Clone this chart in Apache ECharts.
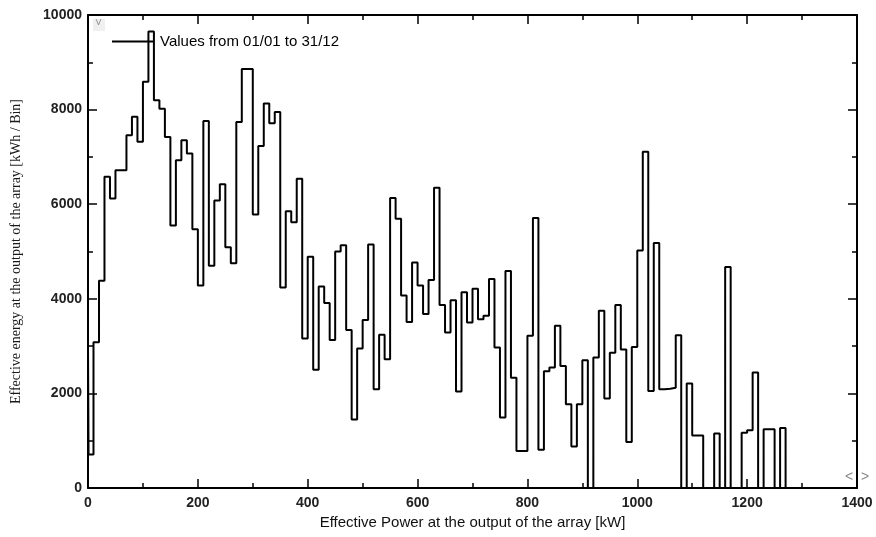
<!DOCTYPE html>
<html>
<head>
<meta charset="utf-8">
<script src="https://cdn.jsdelivr.net/npm/echarts@6/dist/echarts.min.js"></script>
<style>
  html, body { margin: 0; padding: 0; background: #fff; }
  #chart { width: 876px; height: 537px; }
</style>
</head>
<body>
<div id="chart"></div>
<script>
// histogram, 10 kW bins starting at 0 kW
var binWidth = 10;
var firstSpike = 3000; // thin sliver at the very start of the first bin
var energyPerBin = [
  710, 3080, 4380, 6580, 6120, 6720, 6720, 7460, 7850, 7320,
  8590, 9650, 8200, 8020, 7420, 5550, 6930, 7350, 7070, 5470,
  4280, 7760, 4700, 6080, 6420, 5090, 4750, 7740, 8860, 8860,
  5780, 7230, 8130, 7710, 7950, 4240, 5850, 5620, 6540, 3160,
  4890, 2500, 4260, 3910, 3130, 5000, 5130, 3340, 1450, 2950,
  3550, 5150, 2090, 3240, 2720, 6130, 5690, 4070, 3510, 4770,
  4280, 3680, 4400, 6350, 3870, 3290, 3970, 2040, 4140, 3500,
  4210, 3570, 3640, 4420, 2970, 1490, 4590, 2330, 780, 780,
  3220, 5710, 810, 2470, 2550, 3430, 2580, 1770, 880, 1770,
  2700, 0, 2760, 3750, 1890, 2860, 3870, 2930, 970, 2980,
  5020, 7110, 2050, 5180, 2090, 2100, 2120, 3230, 0, 2210,
  1110, 1110, 0, 0, 1150, 0, 4670, 0, 0, 1170,
  1220, 2440, 0, 1240, 1240, 0, 1270
];
var seriesName = 'Values from 01/01 to 31/12';
var xName = 'Effective Power at the output of the array [kW]';
var yName = 'Effective energy at the output of the array [kWh / Bin]';

// step outline points: each bin start with its value
var pts = [[0, 0], [0, firstSpike]];
for (var i = 0; i < energyPerBin.length; i++) {
  pts.push([i === 0 ? 1 : i * binWidth, energyPerBin[i]]);
}
pts.push([energyPerBin.length * binWidth, 0]);

var sans = 'Liberation Sans, Arial, sans-serif';
var plain = function (v) { return String(v); };
var axisCommon = {
  axisLine: { show: true, onZero: false, lineStyle: { color: '#000', width: 2 } },
  axisTick: { show: true, inside: true, length: 9, lineStyle: { color: '#000', width: 1.5 } },
  minorTick: { show: true, splitNumber: 2, length: 5, lineStyle: { color: '#000', width: 1.5 } },
  splitLine: { show: false }
};

var chart = echarts.init(document.getElementById('chart'));
var option = {
  animation: false,
  backgroundColor: '#fff',
  grid: { left: 88, right: 19, top: 15, bottom: 49, containLabel: false },
  legend: {
    left: 107, top: 29,
    icon: 'rect',
    itemWidth: 41, itemHeight: 2,
    data: [seriesName],
    itemStyle: { color: '#000' },
    textStyle: { fontFamily: sans, fontSize: 15, color: '#000', padding: [0, 0, 0, 2] }
  },
  xAxis: [
    Object.assign({
      type: 'value', min: 0, max: 1400, interval: 200, position: 'bottom',
      name: xName, nameLocation: 'middle', nameGap: 27,
      nameTextStyle: { fontFamily: sans, fontSize: 15, color: '#111' },
      axisLabel: { margin: 8, fontFamily: sans, fontSize: 14, fontWeight: 'bold', color: '#222', formatter: plain }
    }, axisCommon),
    Object.assign({
      type: 'value', min: 0, max: 1400, interval: 200, position: 'top',
      axisLabel: { show: false }
    }, axisCommon)
  ],
  yAxis: [
    Object.assign({
      type: 'value', min: 0, max: 10000, interval: 2000, position: 'left',
      name: yName, nameLocation: 'middle', nameGap: 65,
      nameTextStyle: { fontFamily: 'Liberation Serif, Times New Roman, serif', fontSize: 14, color: '#1a1a1a' },
      axisLabel: { margin: 6, fontFamily: sans, fontSize: 14, fontWeight: 'bold', color: '#222', formatter: plain }
    }, axisCommon),
    Object.assign({
      type: 'value', min: 0, max: 10000, interval: 2000, position: 'right',
      axisLabel: { show: false }
    }, axisCommon)
  ],
  graphic: [
    { type: 'rect', left: 93, top: 19, shape: { width: 12, height: 12 }, style: { fill: '#f0f0f0' } },
    { type: 'text', left: 95, top: 18, style: { text: '\u02C5', fontSize: 12, fill: '#999' } },
    { type: 'text', left: 845, top: 470, style: { text: '<  >', fontFamily: sans, fontSize: 14, fill: '#888' } }
  ],
  series: [{
    name: seriesName,
    type: 'line',
    step: 'end',
    symbol: 'none',
    data: pts,
    lineStyle: { color: '#000', width: 2 },
    itemStyle: { color: '#000' }
  }]
};
chart.setOption(option);
</script>
</body>
</html>
